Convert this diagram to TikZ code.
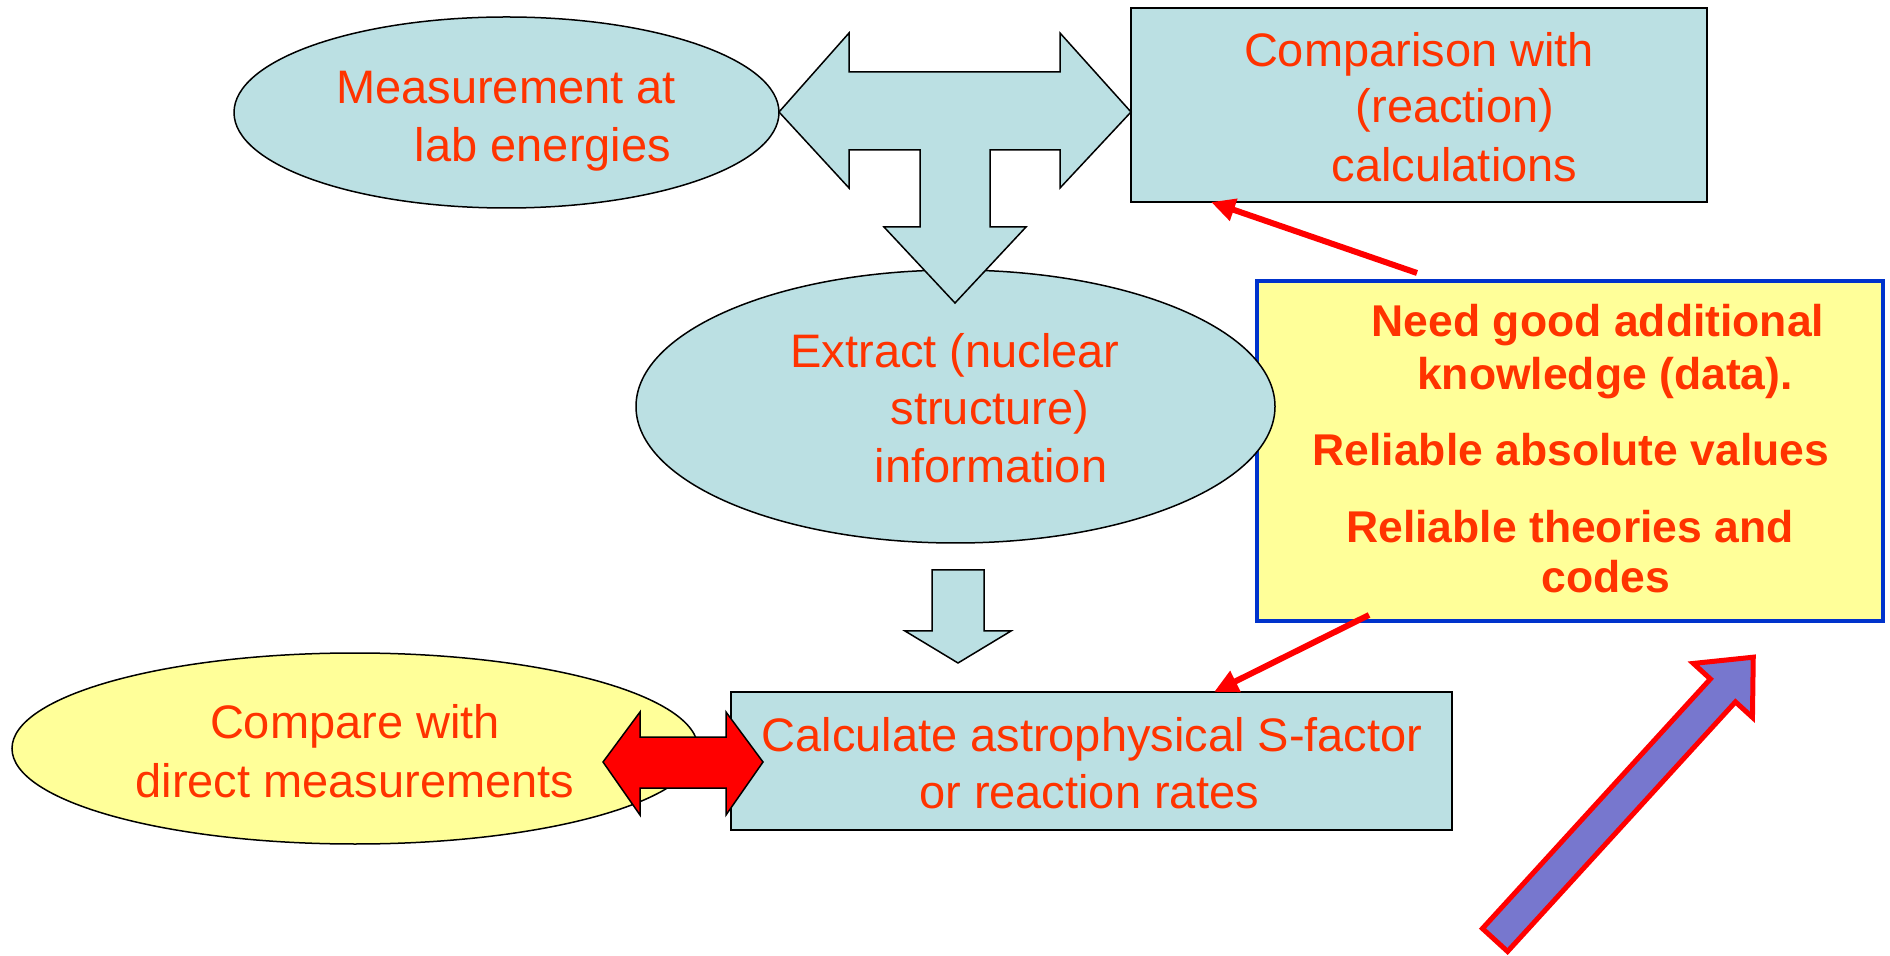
\documentclass[tikz,border=0pt]{standalone}
\usepackage{fontspec}
\setmainfont{Liberation Sans}
\usetikzlibrary{shapes.geometric,arrows.meta}
\definecolor{lblue}{RGB}{187,224,227}
\definecolor{lyellow}{RGB}{255,255,153}
\definecolor{tred}{RGB}{255,51,0}
\definecolor{bblue}{RGB}{0,51,204}
\definecolor{purp}{RGB}{119,119,206}
\begin{document}
\begin{tikzpicture}[x=0.5pt,y=-0.5pt,
  lbshape/.style={fill=lblue, draw=black, line width=0.75pt},
  lbbox/.style={rectangle, fill=lblue, draw=black, line width=1pt, inner sep=0pt},
  ellnode/.style={ellipse, draw=black, line width=0.75pt, inner sep=0pt},
  txt/.style={text=tred, font=\fontsize{23.5}{29}\selectfont, inner sep=0pt, anchor=base},
  btxt/.style={text=tred, font=\fontsize{22.25}{27}\selectfont\bfseries, inner sep=0pt, anchor=base},
  redarrow/.style={draw=red, line width=3pt, -{Triangle[length=12pt,width=11pt]}},
  blockred/.style={fill=red, draw=black, line width=0.75pt},
  purparrow/.style={fill=purp, draw=red, line width=2.5pt, line join=miter}
]
\useasboundingbox (0,0) rectangle (1890,956);

% boxes and ellipses
\node[rectangle, fill=lyellow, draw=bblue, line width=1.75pt, inner sep=0pt,
      minimum width=313pt, minimum height=170pt] (need) at (1570,451) {};
\node[ellnode, fill=lblue, minimum width=272.5pt, minimum height=95.5pt] (meas) at (506.5,112.5) {};
\node[ellnode, fill=lblue, minimum width=319.5pt, minimum height=136.5pt] (extr) at (955.5,406.5) {};
\node[ellnode, fill=lyellow, minimum width=343pt, minimum height=95.5pt] (cmpd) at (355,748.5) {};
\node[lbbox, minimum width=288pt, minimum height=97pt] (cmpc) at (1419,105) {};
\node[lbbox, minimum width=360.5pt, minimum height=69pt] (calc) at (1091.5,761) {};

% T-shaped block arrow
\draw[lbshape, line join=miter] (779,112) -- (849,33) -- (849,72) -- (1060,72) -- (1060,33)
  -- (1131,112) -- (1060,188) -- (1060,150) -- (990,150) -- (990,227) -- (1026,227)
  -- (955,303) -- (884,227) -- (920,227) -- (920,150) -- (849,150) -- (849,188) -- cycle;

% small down block arrow
\draw[lbshape, line join=miter] (932,570) -- (984,570) -- (984,631) -- (1011,631)
  -- (958,663) -- (905,631) -- (932,631) -- cycle;

% red double block arrow
\draw[blockred, line join=miter] (603,762) -- (640,712) -- (640,737) -- (726,737) -- (726,712)
  -- (763,762) -- (726,815) -- (726,788) -- (640,788) -- (640,815) -- cycle;

% texts
\node[txt] (t1) at (506,104) {Measurement at};
\node[txt] (t2) at (543,162) {lab energies};
\node[txt] (t3) at (1419,67) {Comparison with};
\node[txt] (t4) at (1455,123) {(reaction)};
\node[txt] (t5) at (1454.5,182) {calculations};
\node[txt] (t6) at (955,368) {Extract (nuclear};
\node[txt] (t7) at (990,425) {structure)};
\node[txt] (t8) at (991,483) {information};
\node[txt] (t9) at (355,738) {Compare with};
\node[txt] (t10) at (355,797) {direct measurements};
\node[txt] (t11) at (1092,751) {Calculate astrophysical S-factor};
\node[txt] (t12) at (1089,808) {or reaction rates};
\node[btxt] (b1) at (1598,337) {Need good additional};
\node[btxt] (b2) at (1605,390) {knowledge (data).};
\node[btxt] (b3) at (1571,466) {Reliable absolute values};
\node[btxt] (b4) at (1570,543) {Reliable theories and};
\node[btxt] (b5) at (1606,593) {codes};

% thin red arrows
\coordinate (r1s) at (1417,273);
\coordinate (r1e) at (1211,202);
\coordinate (r2s) at (1369,615);
\coordinate (r2e) at (1214,692);
\draw[redarrow] (r1s) -- (r1e);
\draw[redarrow] (r2s) -- (r2e);

% purple block arrow
\draw[purparrow, shift={(1495,940)}, rotate=47.6]
  (0,-17) -- (338,-17) -- (338,-40) -- (383,0) -- (338,40) -- (338,17) -- (0,17) -- cycle;
\end{tikzpicture}
\end{document}
